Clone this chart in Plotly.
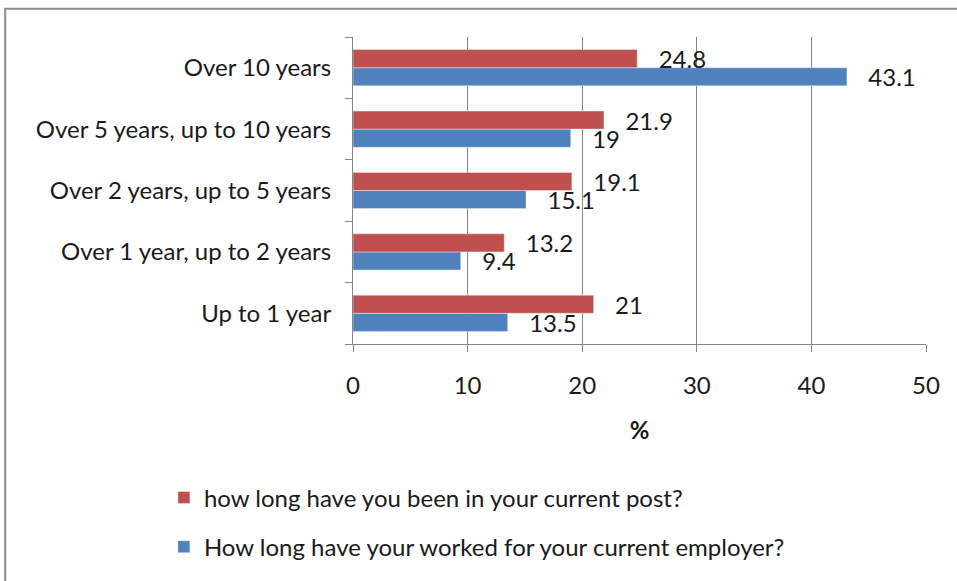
import plotly.graph_objects as go

# data
categories = ["Up to 1 year", "Over 1 year, up to 2 years", "Over 2 years, up to 5 years",
              "Over 5 years, up to 10 years", "Over 10 years"]
current_post = [21, 13.2, 19.1, 21.9, 24.8]
current_employer = [13.5, 9.4, 15.1, 19, 43.1]

RED = "#C0504D"
BLUE = "#4F81BD"
GREY = "#868686"
FONT = "Lato"
SIZE = 24

fig = go.Figure()
# blue first so it sits below the red bar in each group
fig.add_trace(go.Bar(y=categories, x=current_employer, orientation="h",
                     name="How long have your worked for your current employer?",
                     marker=dict(color=BLUE), legendgroup="b", legendrank=2,
                     text=current_employer, texttemplate="\u00a0\u00a0\u00a0%{x}",
                     textposition="outside", constraintext="none", cliponaxis=False))
fig.add_trace(go.Bar(y=categories, x=current_post, orientation="h",
                     name="how long have you been in your current post?",
                     marker=dict(color=RED), legendgroup="a", legendrank=1,
                     text=current_post, texttemplate="\u00a0\u00a0\u00a0%{x}",
                     textposition="outside", constraintext="none", cliponaxis=False))

# outer frame (only top and left edges show in the picture)
fig.add_shape(type="rect", xref="paper", yref="paper",
              x0=-0.607, x1=1.2, y0=-0.9, y1=1.092,
              line=dict(color="#8C8C8C", width=2))

fig.update_layout(
    width=957, height=581,
    margin=dict(l=353, r=31, t=37, b=229),
    barmode="group", bargap=0.41, bargroupgap=0,
    plot_bgcolor="white", paper_bgcolor="white",
    font=dict(family=FONT, size=SIZE, color="#1a1a1a"),
    showlegend=True,
    legend=dict(traceorder="grouped", tracegroupgap=15,
                x=-0.33, y=-0.428, xanchor="left", yanchor="top",
                font=dict(size=SIZE), itemwidth=30),
    xaxis=dict(range=[0, 50], dtick=10, showgrid=True, gridcolor=GREY, gridwidth=1,
               showline=True, linecolor=GREY, ticks="outside", ticklen=7, tickcolor=GREY,
               zeroline=False, fixedrange=True, automargin=False, ticklabelstandoff=13,
               title=dict(text="<b>%</b>", standoff=24, font=dict(size=SIZE))),
    yaxis=dict(showline=True, linecolor=GREY, ticks="outside", ticklen=7, tickcolor=GREY,
               tickson="boundaries", showgrid=False, ticklabelstandoff=16, automargin=False,
               fixedrange=True, categoryorder="array", categoryarray=categories),
)

# drop the browser's default body margin so the figure sits at the page corner
fig.write_html("out.html", config={"displayModeBar": False},
               post_script="document.body.style.margin='0px';")
